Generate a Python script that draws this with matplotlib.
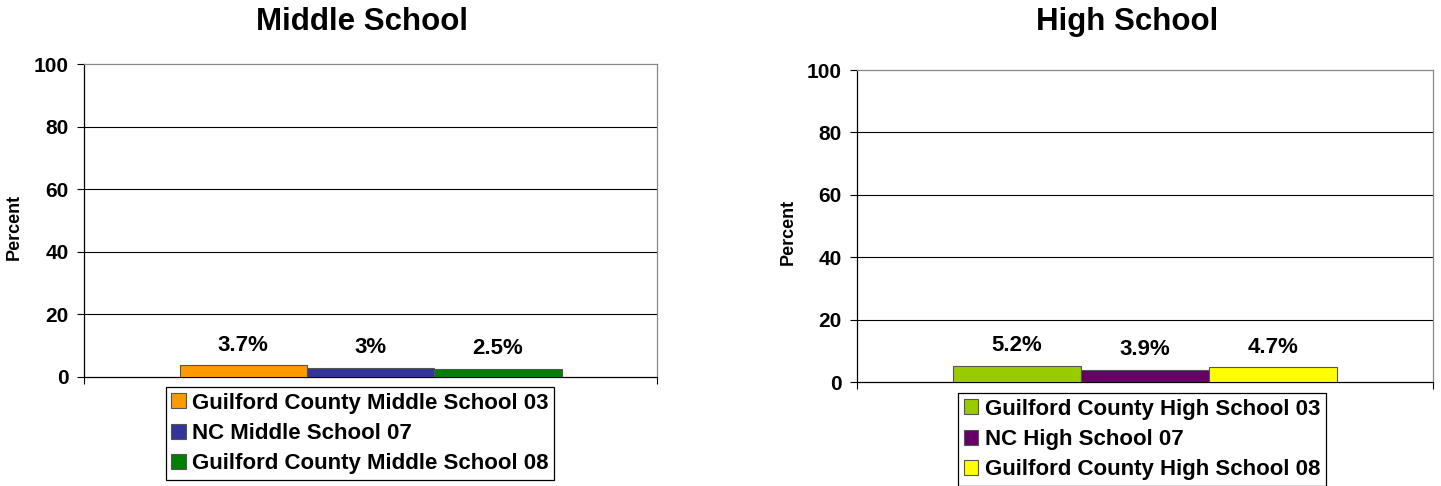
import matplotlib
matplotlib.use("Agg")
from matplotlib import pyplot as plt
from matplotlib.patches import Patch

plt.rcParams['font.family'] = ['Liberation Sans', 'DejaVu Sans']
plt.rcParams['font.weight'] = 'bold'

# data
middle_labels = ["Guilford County Middle School 03", "NC Middle School 07",
                 "Guilford County Middle School 08"]
middle_values = [3.7, 3.0, 2.5]
middle_text = ["3.7%", "3%", "2.5%"]
middle_colors = ["#FF9900", "#333399", "#008000"]

high_labels = ["Guilford County High School 03", "NC High School 07",
               "Guilford County High School 08"]
high_values = [5.2, 3.9, 4.7]
high_text = ["5.2%", "3.9%", "4.7%"]
high_colors = ["#99CC00", "#660066", "#FFFF00"]

yticks = [0, 20, 40, 60, 80, 100]

W, H = 1441, 486


def draw(fig, rect, title, title_x, ylab_x, labels, values, texts, colors, leg_anchor):
    l, b, w, h = rect
    ax = fig.add_axes([l / W, 1 - b / H, w / W, h / H])
    xs = list(range(len(values)))
    bars = ax.bar(xs, values, width=1.0, color=colors, edgecolor="#555555",
                  linewidth=0.8, zorder=3)
    for bar, t in zip(bars, texts):
        ax.annotate(t, (bar.get_x() + bar.get_width() / 2, bar.get_height()),
                    xytext=(0, 7), textcoords="offset points", ha="center",
                    va="bottom", fontsize=16, fontweight="bold")
    ax.set_xlim(-1.25, 3.25)
    ax.set_ylim(0, 100)
    ax.set_yticks(yticks)
    ax.set_yticklabels([str(v) for v in yticks], fontsize=15, fontweight="bold")
    ax.set_xticks([-1.25, 3.25])
    ax.set_xticklabels(["", ""])
    ax.tick_params(axis="both", direction="out", length=5, width=0.8,
                   color="black", pad=6)
    for v in yticks[1:-1]:
        ax.axhline(v, color="black", linewidth=0.8, zorder=1)
    ax.spines["top"].set_color("#888888")
    ax.spines["right"].set_color("#888888")
    ax.spines["left"].set_color("black")
    ax.spines["bottom"].set_color("black")
    for s in ax.spines.values():
        s.set_linewidth(0.9)
    ax.set_ylabel("Percent", fontsize=13, fontweight="bold")
    ax.yaxis.set_label_coords((ylab_x - l) / w, 0.48)
    fig.text(title_x / W, 1 - 22 / H, title, ha="center", va="center",
             fontsize=22.5, fontweight="bold")
    handles = [Patch(facecolor=c, edgecolor="#555555", linewidth=0.8)
               for c in colors]
    leg = fig.legend(handles, labels, loc="upper center",
                     bbox_to_anchor=(leg_anchor[0] / W, 1 - leg_anchor[1] / H),
                     prop={"size": 16, "weight": "bold"}, frameon=True,
                     fancybox=False, edgecolor="black", framealpha=1,
                     handlelength=0.65, handleheight=0.65, handletextpad=0.28,
                     labelspacing=0.42, borderpad=0.25, borderaxespad=0)
    leg.get_frame().set_linewidth(0.9)
    return ax


fig = plt.figure(figsize=(W / 100, H / 100), dpi=100)
draw(fig, (84, 377, 573, 313), "Middle School", 362, 23, middle_labels,
     middle_values, middle_text, middle_colors, (360, 387))
draw(fig, (857, 382, 576, 312), "High School", 1127, 797, high_labels,
     high_values, high_text, high_colors, (1142, 393))

fig.savefig("out.png", dpi=100)
